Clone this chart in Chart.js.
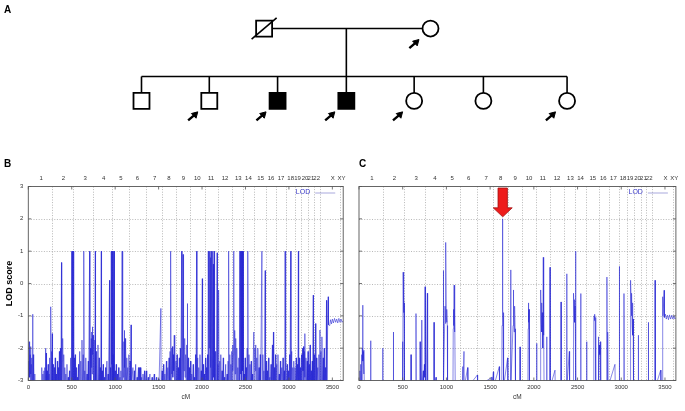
<!DOCTYPE html>
<html><head><meta charset="utf-8">
<script src="https://cdn.jsdelivr.net/npm/chart.js@4.4.1/dist/chart.umd.min.js"></script>
<style>
html,body{margin:0;padding:0;background:#fff;width:685px;height:411px;overflow:hidden;}
.box{position:absolute;}
.lab{position:absolute;font:bold 10px 'Liberation Sans',Arial,sans-serif;line-height:10px;color:#000;}
</style></head><body>
<div class="box" style="left:0;top:0;width:685px;height:140px"><canvas id="pa" width="685" height="140"></canvas></div>
<div class="box" style="left:0;top:140px;width:350px;height:271px"><canvas id="pb" width="350" height="271"></canvas></div>
<div class="box" style="left:345px;top:140px;width:340px;height:271px"><canvas id="pc" width="340" height="271"></canvas></div>
<div class="lab" style="left:4px;top:5px">A</div>
<div class="lab" style="left:4px;top:159px">B</div>
<div class="lab" style="left:359px;top:159px">C</div>
<script>
// ---------- Pedigree (panel A) ----------
const pedX = [261, 434, 133.5, 204, 275, 346.5, 417, 489, 576];
const pedY = [19, 19, 108, 108, 108, 108, 108, 108, 108];
const pedSex = ['M','F','M','M','M','M','F','F','F'];
const pedAffected = [0,0,0,0,1,1,0,0,0];
const pedDeceased = [1,0,0,0,0,0,0,0,0];
const pedArrow = [0,1,0,1,1,1,1,0,1];
const sibshipY = 78;

// ---------- Genome axis (panels B, C) ----------
const chrNames = ['1','2','3','4','5','6','7','8','9','10','11','12','13','14','15','16','17','18','19','20','21','22','X','XY'];
const chrLabelCM = [148,405,655,868,1065,1255,1455,1620,1785,1945,2103,2265,2418,2534,2675,2795,2910,3020,3100,3186,3253,3319,3505,3605];
const chrBoundCM = [270,520,750,965,1160,1350,1535,1700,1865,2030,2180,2345,2475,2595,2740,2855,2970,3065,3140,3225,3285,3355,3590];
const cmTicks = [0,500,1000,1500,2000,2500,3000,3500];
const lodTicks = [-3,-2,-1,0,1,2,3];
const cmMax = 3625;
const lodMin = -3, lodMax = 3;

// Panel B: LOD profile [cM, LOD]
const lodB = [
[0,-3.2],[3,-2.4],[6,-2.9],[9,-1.8],[12,-2.7],[15,-2.0],[18,-2.9],[22,-2.2],[25,-3.2],[28,-1.95],[31,-2.8],[35,-2.5],[38,-3.2],[42,-2.3],[46,-3.2],[50,-0.95],[53,-3.2],[57,-2.2],[60,-3.2],[64,-2.6],[68,-3.2],[73,-2.8],[77,-3.2],
[150,-3.2],[155,-2.6],[160,-3.2],[168,-2.8],[172,-3.2],[180,-2.7],[184,-3.2],[190,-2.6],[194,-3.2],[198,-2.0],[202,-3.2],[206,-2.15],[210,-3.2],[216,-2.7],[220,-3.2],[228,-2.5],[232,-3.2],[240,-2.8],[244,-3.2],[248,-2.3],[252,-3.2],[256,-1.6],[258,-2.6],[260,-0.72],[263,-3.2],[268,-2.1],[271,-3.2],[276,-1.55],[279,-3.2],
[285,-2.5],[289,-3.2],[300,-2.6],[304,-3.2],[310,-2.3],[314,-3.2],[322,-2.8],[326,-3.2],[335,-2.4],[339,-3.2],[346,-2.6],[350,-3.2],[358,-2.1],[362,-3.2],[370,-2.0],[374,-3.2],[382,0.65],[385,-3.2],[392,-2.4],[396,-1.7],[400,-3.2],[408,-2.2],[412,-3.2],[420,-2.6],[424,-3.2],[432,-2.8],[436,-3.2],[445,-2.5],[449,-3.2],[460,-2.9],[464,-3.2],[474,-2.7],[478,-3.2],[488,-2.3],[492,-3.2],[497,1],[502,-3.2],[507,1],[512,-3.2],[518,1],[523,-3.2],
[530,-2.3],[534,-3.2],[540,-2.2],[544,-3.2],[552,-2.6],[556,-3.2],[565,-2.9],[569,-3.2],[578,-2.5],[582,-3.2],[592,-2.1],[596,-3.2],[604,-2.4],[608,-3.2],[618,-1.75],[622,-3.2],[632,-2.2],[636,-3.2],[641,1],[644,-3.2],[650,-2.7],[654,-3.2],[662,-2.3],[666,-3.2],[676,-2.8],[680,-3.2],[690,-2.4],[694,-3.2],[706,1],[709,-3.2],[716,-2.0],[720,-3.2],[725,-1.7],[728,-2.6],[731,-1.5],[734,-2.8],[738,-1.34],[741,-2.2],[745,-1.6],[748,-3.2],
[755,-1.9],[759,-3.2],[764,-1.75],[767,-3.2],[771,1],[774,-3.2],[780,-2.1],[784,-3.2],[790,-2.5],[794,-3.2],[802,-1.9],[806,-3.2],[815,-2.3],[819,-3.2],[828,-2.6],[832,-3.2],[840,1],[843,-3.2],[850,-2.7],[854,-3.2],[862,-2.5],[866,-3.2],[876,-2.9],[880,-3.2],[890,-2.6],[894,-3.2],[905,-2.4],[909,-3.2],[918,-2.8],[922,-3.2],[935,0.1],[938,-3.2],[946,-2.6],[950,-3.2],
[955,1],[958,-3.2],[962,-2.5],[967,1],[970,-3.2],[976,-2.2],[980,1],[983,-3.2],[989,1],[992,-3.2],[1000,-2.7],[1004,-3.2],[1012,-2.5],[1016,-3.2],[1026,-2.8],[1030,-3.2],[1040,-2.6],[1044,-3.2],[1055,-2.9],[1059,-3.2],[1066,-2.7],[1070,-3.2],[1080,1],[1083,-3.2],[1090,-2.1],[1094,-2.9],[1100,-1.8],[1104,-3.2],[1106,-1.45],[1109,-2.6],[1114,-1.7],[1118,-3.2],[1122,-2.0],[1126,-2.8],[1132,-2.3],[1136,-3.2],[1145,-2.6],[1149,-3.2],[1158,-2.2],[1162,-3.2],[1171,-2.4],[1175,-3.2],
[1183,-1.28],[1186,-3.2],[1204,-2.6],[1208,-3.2],[1220,-2.7],[1224,-3.2],[1236,-2.5],[1240,-3.2],[1252,-2.9],[1256,-3.2],[1268,-2.6],[1272,-3.2],[1282,-2.6],[1285,-3.2],[1292,-2.6],[1296,-3.2],[1305,-2.9],[1309,-3.2],[1320,-2.8],[1324,-3.2],[1338,-2.7],[1342,-3.2],
[1360,-2.7],[1364,-3.2],[1380,-2.9],[1384,-3.2],[1400,-2.8],[1404,-3.2],[1425,-2.9],[1429,-3.2],[1450,-2.8],[1454,-3.2],[1475,-2.9],[1479,-3.2],[1500,-2.95],[1504,-3.2],[1526,-0.77],[1529,-3.2],
[1540,-2.7],[1544,-3.2],[1556,-2.5],[1560,-3.2],[1572,-2.8],[1576,-3.2],[1590,-2.4],[1594,-3.2],[1606,-2.6],[1610,-3.2],[1620,-2.3],[1624,-3.2],[1632,-2.1],[1636,-3.2],[1641,1],[1644,-3.2],[1650,-2.0],[1654,-2.8],[1660,-1.95],[1664,-2.9],[1670,-2.2],[1674,-2.7],[1680,-1.6],[1684,-3.2],[1688,-2.1],[1692,-3.2],
[1700,-2.4],[1704,-3.2],[1712,-2.2],[1716,-3.2],[1726,-2.6],[1730,-3.2],[1738,-2.3],[1742,-3.2],[1750,-2.0],[1754,-3.2],[1766,1],[1769,-3.2],[1775,-2.4],[1781,0.9],[1784,-3.2],[1790,-2.0],[1794,-2.7],[1800,-1.7],[1804,-2.9],[1812,-2.2],[1816,-3.2],[1824,-1.9],[1828,-3.2],[1831,-0.62],[1834,-3.2],[1842,-2.3],[1846,-3.2],[1855,-2.6],[1859,-3.2],
[1868,-2.4],[1872,-3.2],[1882,-2.8],[1886,-3.2],[1898,-2.5],[1902,-3.2],[1912,-2.9],[1916,-3.2],[1926,-2.2],[1930,-3.2],[1938,1],[1941,-3.2],[1950,-2.3],[1954,-3.2],[1962,-2.6],[1966,-3.2],[1976,-2.2],[1980,-3.2],[1990,-2.7],[1994,-3.2],[2003,0.15],[2006,-3.2],[2014,-2.5],[2018,-3.2],[2026,-2.8],[2030,-3.2],
[2040,-2.3],[2044,-3.2],[2052,-2.6],[2056,-3.2],[2064,-2.2],[2068,-3.2],[2072,1],[2076,-3.2],[2080,1],[2084,-2.0],[2088,1],[2092,-3.2],[2096,0.8],[2100,-2.6],[2104,1],[2108,-3.2],[2112,0.5],[2116,-2.8],[2120,1],[2124,-3.2],[2130,0.6],[2134,-2.9],[2140,1],[2144,-3.2],[2150,-2.1],[2154,-3.2],[2160,-2.4],[2164,-3.2],[2174,0.95],[2177,-3.2],
[2184,-2.5],[2188,-3.2],[2193,-0.2],[2196,-3.2],[2204,-2.4],[2208,-3.2],[2216,-2.2],[2220,-3.2],[2230,-2.7],[2234,-3.2],[2244,-2.3],[2248,-3.2],[2258,-2.9],[2262,-3.2],[2272,-2.5],[2276,-3.2],[2288,-2.8],[2292,-3.2],[2300,-2.4],[2304,-3.2],[2308,1],[2311,-3.2],[2320,-2.2],[2324,-3.2],[2332,-2.5],[2336,-3.2],[2342,-2.1],[2346,-3.2],
[2352,-1.9],[2356,-2.7],[2360,-2.2],[2365,1],[2368,-3.2],[2374,-2.4],[2378,-1.45],[2382,-2.8],[2388,-1.7],[2392,-3.2],[2400,-2.0],[2404,-3.2],[2412,-2.6],[2416,-3.2],[2424,-2.3],[2428,-3.2],[2432,1],[2436,-3.2],[2442,1],[2447,-2.8],[2452,1],[2457,-3.2],[2462,1],[2467,-2.7],[2472,1],[2477,-3.2],
[2484,-2.8],[2488,-3.2],[2496,-2.3],[2500,-3.2],[2508,-2.6],[2512,-3.2],[2520,-2.0],[2524,-3.2],[2529,1],[2532,-3.2],[2540,-2.2],[2544,-3.2],[2552,-2.5],[2556,-3.2],[2566,-2.4],[2570,-3.2],[2580,-2.8],[2584,-3.2],
[2596,-1.5],[2600,-3.2],[2608,-2.0],[2612,-2.7],[2618,-1.9],[2622,-3.2],[2630,-2.3],[2634,-3.2],[2642,-2.0],[2646,-3.2],[2656,-2.6],[2660,-3.2],[2670,-2.2],[2674,-3.2],[2689,1],[2692,-3.2],[2700,-2.2],[2704,-3.2],[2712,-2.7],[2716,-3.2],
[2727,0.4],[2730,-3.2],[2740,-2.4],[2744,-3.2],[2752,-2.7],[2756,-3.2],[2766,-2.3],[2770,-3.2],[2780,-2.9],[2784,-3.2],[2794,-2.5],[2798,-3.2],[2810,-1.9],[2814,-3.2],[2822,-1.5],[2825,-3.2],[2834,-2.6],[2838,-3.2],[2846,-2.2],[2850,-3.2],
[2860,-2.5],[2864,-3.2],[2874,-2.2],[2878,-3.2],[2888,-2.8],[2892,-3.2],[2902,-2.4],[2906,-3.2],[2918,-2.6],[2922,-3.2],[2932,-2.3],[2936,-3.2],[2946,-2.7],[2950,-3.2],[2956,1],[2959,-3.2],
[2966,-2.3],[2970,-3.2],[2980,-2.5],[2984,-3.2],[2994,-2.7],[2998,-3.2],[3008,-2.2],[3012,-3.2],[3021,1],[3024,-3.2],[3032,-2.1],[3036,-3.2],[3044,-2.6],[3048,-3.2],[3056,-2.4],[3060,-3.2],
[3070,-2.6],[3074,-3.2],[3084,-2.3],[3088,-3.2],[3098,-2.5],[3102,-3.2],[3109,1],[3112,-3.2],[3120,-2.3],[3124,-3.2],[3132,-2.6],[3136,-3.2],
[3146,-2.2],[3150,-3.2],[3158,-2.0],[3162,-2.7],[3168,-1.95],[3172,-3.2],[3178,-2.1],[3182,-2.9],[3185,-1.55],[3188,-3.2],[3196,-2.3],[3200,-3.2],[3210,-2.4],[3214,-3.2],[3220,-2.1],[3224,-3.2],
[3232,-2.5],[3236,-3.2],[3244,-1.9],[3248,-3.2],[3256,-2.7],[3260,-3.2],[3268,-2.4],[3272,-3.2],
[3280,-0.36],[3283,-3.2],[3292,-2.2],[3296,-3.2],[3307,-1.24],[3310,-3.2],[3318,-2.3],[3322,-3.2],[3332,-2.6],[3336,-3.2],[3345,-2.2],[3349,-3.2],
[3357,-1.44],[3360,-3.2],[3368,-2.1],[3372,-3.2],[3380,-1.65],[3384,-3.2],[3394,-2.3],[3398,-3.2],[3406,-2.0],[3410,-3.2],[3420,-2.6],[3424,-3.2],[3433,-0.52],[3436,-3.2],[3446,-1.3],[3452,-0.41],[3456,-1.28],[3470,-1.3],[3478,-1.12],[3490,-1.25],[3500,-1.1],[3512,-1.22],[3525,-1.08],[3538,-1.2],[3550,-1.1],[3562,-1.22],[3575,-1.08],[3588,-1.2],[3600,-1.1],[3612,-1.2],[3625,-1.15]
];
// Panel B: dense (unresolved) regions [startCM, endCM, topLOD]
const bandsB = [[496,520,1],[953,993,1],[2066,2148,1],[2430,2478,1]];

// Panel C: LOD profile [cM, LOD]
const lodC = [
[0,-3.2],[10,-2.7],[14,-3.2],[20,-2.5],[24,-3.2],[30,-2.2],[34,-3.2],[38,-2.0],[42,-0.67],[45,-2.4],[50,-2.1],[54,-2.8],[57,-2.06],[61,-3.2],
[130,-3.2],[133,-1.77],[136,-3.2],[268,-3.2],[271,-2.0],[274,-3.2],[390,-3.2],[393,-1.5],[396,-3.2],
[495,-3.2],[498,-1.8],[502,-3.2],[505,0.35],[508,-0.4],[510,-0.2],[512,-0.9],[514,-0.3],[516,-1.1],[518,-0.6],[520,-1.0],[523,-3.2],
[592,-3.2],[595,-2.2],[598,-3.2],[649,-3.2],[652,-0.93],[655,-3.2],
[695,-3.2],[698,-1.8],[701,-3.2],[708,-2.6],[712,-3.2],[717,-1.13],[720,-3.2],[735,-2.7],[738,-3.2],[748,-2.5],[751,-2.9],[755,-0.1],[758,-3.2],[764,-2.6],[768,-3.2],[782,-0.3],[785,-3.2],
[855,-3.2],[858,-1.2],[861,-3.2],[881,-2.9],[884,-3.2],
[962,-3.2],[965,0.4],[968,-3.2],[980,-1.2],[984,-0.7],[988,-1.24],[992,-0.9],[995,1.27],[998,-1.0],[1002,-1.2],[1006,-0.8],[1010,-1.3],[1013,-3.2],
[1075,-3.2],[1078,-1.4],[1081,-0.8],[1084,-1.3],[1088,-0.05],[1091,-1.0],[1094,-1.5],[1098,-0.9],[1101,-3.2],
[1183,-3.2],[1186,-2.57],[1189,-3.2],[1201,-2.1],[1204,-3.2],[1243,-2.6],[1246,-3.2],[1354,-2.83],[1357,-3.2],
[1518,-2.9],[1521,-3.2],[1537,-2.73],[1540,-3.2],[1605,-2.57],[1608,-3.2],
[1633,-3.2],[1636,-1.3],[1640,-0.6],[1642,-1.0],[1644,2.0],[1646,-0.8],[1649,-1.34],[1652,-0.9],[1655,-3.2],
[1700,-2.3],[1703,-3.2],[1732,-3.2],[1735,0.42],[1738,-3.2],[1762,-1.3],[1765,-0.2],[1770,-1.0],[1775,-1.5],[1780,-0.7],[1785,-1.4],[1790,-3.2],
[1839,-3.2],[1842,-1.96],[1845,-3.2],
[1932,-3.2],[1935,-1.4],[1938,-0.6],[1941,-1.2],[1945,-0.8],[1948,-1.5],[1951,-3.2],
[2029,-3.2],[2032,-1.85],[2035,-3.2],
[2073,-3.2],[2076,-1.4],[2080,-0.2],[2084,-1.2],[2088,-0.6],[2092,-1.5],[2096,-0.9],[2100,-1.3],[2104,-2.0],[2108,0.81],[2111,-1.1],[2114,-1.6],[2117,-3.2],
[2144,-3.2],[2147,-1.65],[2150,-3.2],[2182,-3.2],[2185,0.5],[2188,-3.2],
[2242,-2.68],[2245,-3.2],[2308,-3.2],[2311,-0.57],[2314,-3.2],[2373,-3.2],[2376,0.3],[2379,-3.2],[2406,-2.1],[2409,-3.2],
[2449,-3.2],[2452,-1.1],[2456,-0.3],[2460,-0.9],[2464,-0.5],[2468,-1.2],[2472,-0.7],[2476,-1.0],[2479,1.0],[2482,-3.2],
[2533,-3.2],[2536,-0.31],[2539,-3.2],[2601,-3.2],[2604,-1.8],[2607,-3.2],
[2683,-3.2],[2686,-1.1],[2690,-1.0],[2694,-1.15],[2698,-0.95],[2702,-1.2],[2706,-1.05],[2710,-3.2],
[2735,-3.2],[2738,-1.65],[2742,-3.2],[2750,-1.9],[2754,-2.2],[2760,-1.8],[2765,-3.2],
[2833,-3.2],[2836,0.2],[2839,-3.2],[2845,-1.5],[2849,-3.2],
[2928,-2.5],[2931,-3.2],[2975,-3.2],[2978,0.53],[2981,-3.2],[3028,-3.2],[3031,-0.31],[3034,-3.2],
[3102,-3.2],[3105,-1.5],[3108,0.1],[3112,-0.5],[3116,-1.0],[3120,-0.3],[3124,-1.3],[3128,-0.6],[3132,-1.6],[3136,-1.1],[3140,-3.2],
[3192,-3.2],[3195,-1.6],[3198,-3.2],[3307,-3.2],[3310,-1.2],[3313,-3.2],
[3383,-3.2],[3386,0.1],[3389,-1.13],[3392,-3.2],[3451,-2.68],[3454,-3.2],
[3471,-3.2],[3474,-0.41],[3478,-1.0],[3490,-0.21],[3494,-1.05],[3505,-0.95],[3515,-1.1],[3528,-0.98],[3540,-1.12],[3552,-0.97],[3565,-1.1],[3578,-0.98],[3590,-1.1],[3602,-1.0],[3614,-1.1],[3625,-1.05]
];
const bandsC = [];
// Red arrow marking the chromosome 8 peak in panel C
const arrowC = {cm: 1644, lod: 2.0};

const F = "'Liberation Sans', Arial, Helvetica, sans-serif";
Chart.defaults.font.family = F;
Chart.defaults.animation = false;
Chart.defaults.events = [];

// ---------- draw pedigree ----------
(function(){
  const shapes = pedX.map((x,i)=>({x, y: pedY[i]}));
  const segs = [];
  const seg = (x1,y1,x2,y2)=>{segs.push({x:x1,y:y1},{x:x2,y:y2},{x:null,y:null});};
  seg(pedX[0]+8, pedY[0], pedX[1]-8, pedY[1]);
  const kids = pedX.slice(2);
  const descX = 346.5;
  seg(descX, pedY[0], descX, sibshipY);
  seg(Math.min(...kids), sibshipY, Math.max(...kids), sibshipY);
  kids.forEach((x,k)=>seg(x, sibshipY, x, pedY[k+2]-8));
  const slash = [];
  pedX.forEach((x,i)=>{ if(pedDeceased[i]){ slash.push({x:x-13,y:pedY[i]+13},{x:x+13,y:pedY[i]-13}); }});
  const shafts = [], heads = [];
  pedX.forEach((x,i)=>{ if(pedArrow[i]){
    const ax = x-17, ay = pedY[i] + 19;
    shafts.push({x:ax-5,y:ay+5},{x:ax+2,y:ay-2},{x:null,y:null});
    heads.push({x:ax+2.2,y:ay-2.2});
  }});
  new Chart(document.getElementById('pa'), {
    type:'scatter',
    data:{datasets:[
      {data:shapes, pointStyle: pedSex.map(s=>s==='M'?'rect':'circle'),
       pointRadius: pedSex.map(s=>s==='M'?11.3:8),
       pointBackgroundColor: pedAffected.map(a=>a?'#000':'#fff'),
       pointBorderColor:'#000', pointBorderWidth:1.8, order:1, clip:false},
      {data:segs, showLine:true, borderColor:'#000', borderWidth:1.6, pointRadius:0, spanGaps:false, order:2, clip:false},
      {data:slash, showLine:true, borderColor:'#000', borderWidth:1.6, pointRadius:0, order:0, clip:false},
      {data:shafts, showLine:true, borderColor:'#000', borderWidth:2.4, pointRadius:0, spanGaps:false, order:0, clip:false},
      {data:heads, pointStyle:'triangle', rotation:45, pointRadius:3.8, pointBackgroundColor:'#000', pointBorderColor:'#000', pointBorderWidth:1, order:0, clip:false}
    ]},
    options:{responsive:false, devicePixelRatio:1, layout:{padding:0},
      plugins:{legend:{display:false}, tooltip:{enabled:false}},
      scales:{x:{type:'linear',min:0,max:685,display:false}, y:{type:'linear',min:0,max:140,reverse:true,display:false}}}
  });
})();

// ---------- LOD panels ----------
const framePlugin = {
  id:'lodFrame',
  beforeDatasetsDraw(chart){
    const {ctx, chartArea:a, scales:{x, y}} = chart;
    ctx.save();
    ctx.strokeStyle = '#9a9a9a'; ctx.lineWidth = 0.7; ctx.setLineDash([1,1.6]);
    y.ticks.forEach(t=>{ if(t.value>lodMin && t.value<lodMax){ const py = Math.round(y.getPixelForValue(t.value))+0.5; ctx.beginPath(); ctx.moveTo(a.left,py); ctx.lineTo(a.right,py); ctx.stroke(); }});
    chrBoundCM.forEach(b=>{ const px = Math.round(x.getPixelForValue(b))+0.5; ctx.beginPath(); ctx.moveTo(px,a.top); ctx.lineTo(px,a.bottom); ctx.stroke(); });
    ctx.restore();
  },
  afterDatasetsDraw(chart, args, opts){
    const {ctx, chartArea:a, scales:{x, y}} = chart;
    ctx.save();
    ctx.strokeStyle = '#555'; ctx.lineWidth = 0.9; ctx.setLineDash([]);
    ctx.strokeRect(a.left, a.top, a.right-a.left, a.bottom-a.top);
    ctx.lineWidth = 0.8;
    x.ticks.forEach(t=>{ const px = x.getPixelForValue(t.value); ctx.beginPath(); ctx.moveTo(px,a.bottom); ctx.lineTo(px,a.bottom-3); ctx.moveTo(px,a.top); ctx.lineTo(px,a.top+3); ctx.stroke(); });
    y.ticks.forEach(t=>{ const py = y.getPixelForValue(t.value); ctx.beginPath(); ctx.moveTo(a.left,py); ctx.lineTo(a.left+3,py); ctx.moveTo(a.right,py); ctx.lineTo(a.right-3,py); ctx.stroke(); });
    // key: series name with line sample (gnuplot style, top-right inside the frame)
    const ds = chart.data.datasets[0];
    const ky = a.top + 6;
    ctx.font = '7px ' + F; ctx.fillStyle = '#3c3cc8'; ctx.textAlign = 'right'; ctx.textBaseline = 'middle';
    ctx.fillText(ds.label, a.right - 33, ky);
    ctx.strokeStyle = 'rgba(110,110,200,0.75)'; ctx.lineWidth = 0.8;
    ctx.beginPath(); ctx.moveTo(a.right-28, ky+0.5); ctx.lineTo(a.right-8, ky+0.5); ctx.stroke();
    if(opts && opts.arrow){
      const cx = x.getPixelForValue(opts.arrow.cm);
      const tip = y.getPixelForValue(opts.arrow.lod) - 2;
      const top = a.top + 1.5;
      const hh = 9, sw = 4.7, hw = 9.5;
      ctx.beginPath();
      ctx.moveTo(cx-sw, top); ctx.lineTo(cx+sw, top); ctx.lineTo(cx+sw, tip-hh); ctx.lineTo(cx+hw, tip-hh);
      ctx.lineTo(cx, tip); ctx.lineTo(cx-hw, tip-hh); ctx.lineTo(cx-sw, tip-hh); ctx.closePath();
      ctx.fillStyle = '#ee1c1c'; ctx.fill();
      ctx.strokeStyle = '#a01010'; ctx.lineWidth = 0.8; ctx.stroke();
    }
    ctx.restore();
  }
};

function lodChart(id, profile, bands, cfg){
  const bandData = [];
  bands.forEach(b=>{ bandData.push({x:b[0],y:lodMin},{x:b[0],y:b[2]},{x:b[1],y:b[2]},{x:b[1],y:lodMin},{x:null,y:null}); });
  const tickFont = {size:6, family:F};
  return new Chart(document.getElementById(id), {
    type:'line',
    data:{datasets:[
      {label:'LOD', data: profile.map(p=>({x:p[0], y:p[1]})), borderColor:'rgba(35,35,210,0.72)', backgroundColor:'rgba(35,35,210,0.72)', borderWidth:0.75, pointRadius:0, tension:0, order:1},
      {label:'band', data: bandData, borderWidth:0, borderColor:'rgba(0,0,0,0)', backgroundColor:'rgba(120,120,228,0.3)', fill:{value:lodMin}, pointRadius:0, spanGaps:false, order:2}
    ]},
    plugins:[framePlugin],
    options:{responsive:false, devicePixelRatio:1,
      layout:{padding:{left:cfg.padLeft, right:cfg.padRight, top:0, bottom:0}},
      plugins:{
        tooltip:{enabled:false},
        legend:{display:false},
        lodFrame: cfg.arrow ? {arrow: cfg.arrow} : {}
      },
      scales:{
        x:{type:'linear', min:0, max:cmMax, position:'bottom',
          grid:{display:false, drawTicks:false}, border:{display:false},
          afterBuildTicks:(s)=>{s.ticks = cmTicks.map(v=>({value:v}));},
          ticks:{autoSkip:false, maxRotation:0, minRotation:0, padding:3.5, font:tickFont, color:'#333', callback:(v)=>String(v)},
          title:{display:true, text:'cM', font:{size:6.5, family:F}, color:'#333', padding:{top:0, bottom:10}},
          afterFit:(s)=>{s.height = 30.5;}},
        x2:{type:'linear', min:0, max:cmMax, position:'top',
          grid:{display:false, drawTicks:false}, border:{display:false},
          afterBuildTicks:(s)=>{s.ticks = chrLabelCM.map(v=>({value:v}));},
          ticks:{autoSkip:false, maxRotation:0, minRotation:0, padding:4.5, font:tickFont, color:'#333', callback:(v,i)=>chrNames[i]},
          afterFit:(s)=>{s.height = 46.5;}},
        y:{type:'linear', min:lodMin, max:lodMax, display:cfg.showY,
          grid:{display:false, drawTicks:false}, border:{display:false},
          afterBuildTicks:(s)=>{s.ticks = lodTicks.map(v=>({value:v}));},
          ticks:{padding:5, font:tickFont, color:'#333', callback:(v)=>String(v)},
          title:{display:cfg.showY, text:'LOD score', font:{size:9, weight:'bold', family:F}, color:'#000', padding:{top:4.6, bottom:0}},
          afterFit:(s)=>{s.width = cfg.yWidth;}}
      }}
  });
}

lodChart('pb', lodB, bandsB, {padLeft:0, padRight:4.8, showY:true, yWidth:28.3});
lodChart('pc', lodC, bandsC, {padLeft:14, padRight:9.1, showY:false, yWidth:0, arrow:arrowC});
</script>
</body></html>
